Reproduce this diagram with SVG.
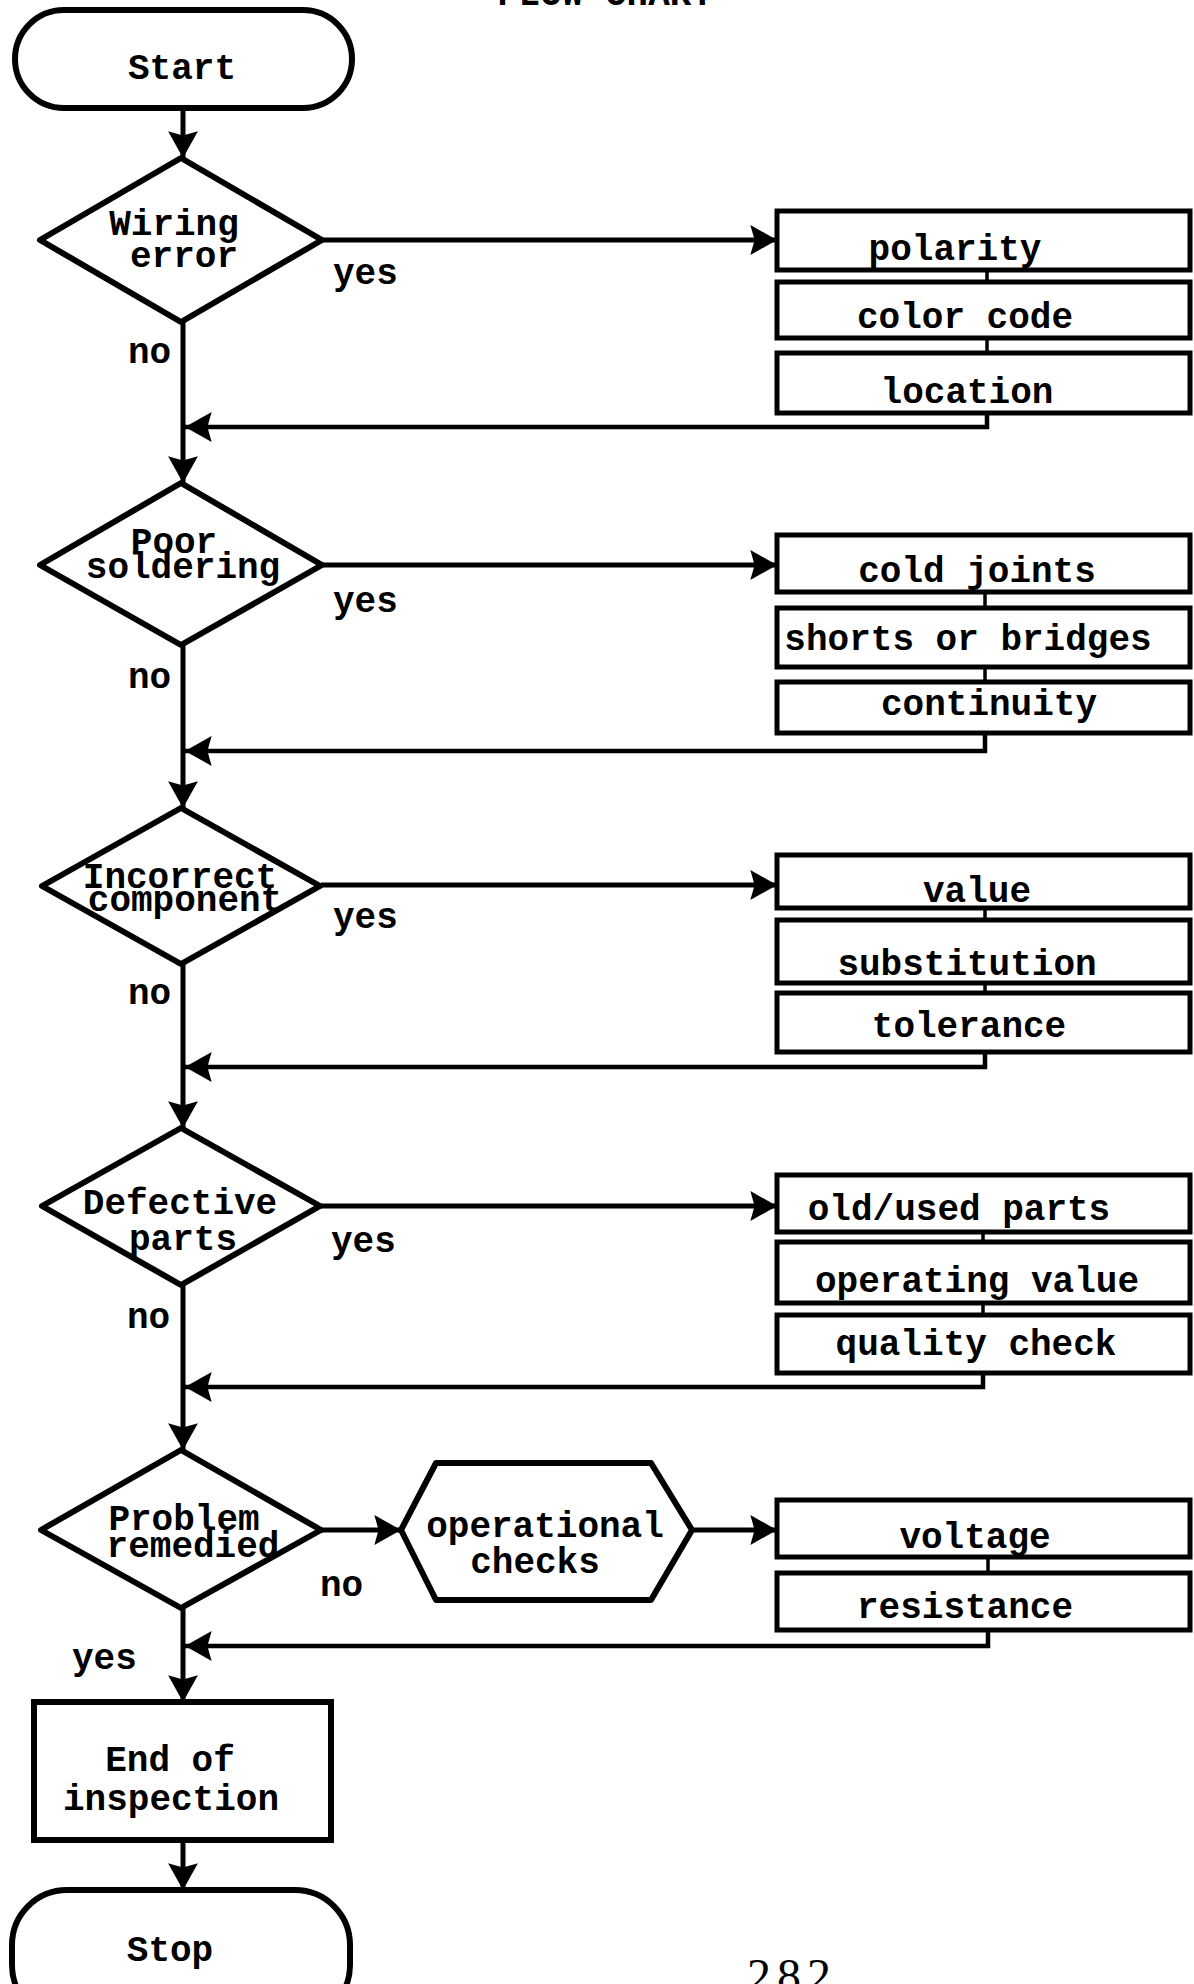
<svg xmlns="http://www.w3.org/2000/svg" width="1194" height="1984" viewBox="0 0 1194 1984">
<style>
.t{font-family:"Liberation Mono","Courier New",monospace;font-weight:bold;font-size:36px;fill:#000;text-anchor:middle}
.l{font-family:"Liberation Mono","Courier New",monospace;font-weight:bold;font-size:36px;fill:#000}
.shape{fill:#fff;stroke:#000;stroke-width:6;stroke-linejoin:round}
.box{fill:#fff;stroke:#000;stroke-width:5}
.flow{fill:none;stroke:#000;stroke-width:5}
.ret{fill:none;stroke:#000;stroke-width:4.5}
.tick{fill:none;stroke:#000;stroke-width:3.5}
</style>
<defs>
<marker id="ah" markerUnits="userSpaceOnUse" markerWidth="30" markerHeight="32" viewBox="0 0 26 30" refX="25" refY="15" orient="auto">
<path d="M0,1 L25,15 L0,29 L4,15 Z" fill="#000"/>
</marker>
</defs>
<rect width="1194" height="1984" fill="#fff"/>
<text class="t" x="605" y="5">FLOW CHART</text>

<g id="connectors">
<path class="flow" d="M183,108 V158" marker-end="url(#ah)"/>
<path class="flow" d="M322,240 H777" marker-end="url(#ah)"/>
<path class="flow" d="M183,322 V483" marker-end="url(#ah)"/>
<path class="tick" d="M987,270 V282 M987,338 V353"/>
<path class="ret" d="M987,413 V427 H185" marker-end="url(#ah)"/>
<path class="flow" d="M322,565 H777" marker-end="url(#ah)"/>
<path class="flow" d="M183,645 V808" marker-end="url(#ah)"/>
<path class="tick" d="M985,592 V608 M985,667 V682"/>
<path class="ret" d="M985,733 V751 H185" marker-end="url(#ah)"/>
<path class="flow" d="M321,885 H777" marker-end="url(#ah)"/>
<path class="flow" d="M183,964 V1128" marker-end="url(#ah)"/>
<path class="tick" d="M985,908 V920 M985,983 V993"/>
<path class="ret" d="M985,1052 V1067 H185" marker-end="url(#ah)"/>
<path class="flow" d="M321,1206 H777" marker-end="url(#ah)"/>
<path class="flow" d="M183,1285 V1450" marker-end="url(#ah)"/>
<path class="tick" d="M983,1232 V1242 M983,1303 V1315"/>
<path class="ret" d="M983,1373 V1387 H185" marker-end="url(#ah)"/>
<path class="flow" d="M321,1530 H401" marker-end="url(#ah)"/>
<path class="flow" d="M692,1530 H777" marker-end="url(#ah)"/>
<path class="tick" d="M988,1557 V1573"/>
<path class="ret" d="M988,1630 V1646 H185" marker-end="url(#ah)"/>
<path class="flow" d="M183,1608 V1702" marker-end="url(#ah)"/>
<path class="flow" d="M183,1840 V1890" marker-end="url(#ah)"/>
<text class="l" x="333" y="284">yes</text>
<text class="l" x="128" y="363">no</text>
<text class="l" x="333" y="612">yes</text>
<text class="l" x="128" y="688">no</text>
<text class="l" x="333" y="928">yes</text>
<text class="l" x="128" y="1004">no</text>
<text class="l" x="331" y="1252">yes</text>
<text class="l" x="127" y="1328">no</text>
<text class="l" x="320" y="1596">no</text>
<text class="l" x="72" y="1669">yes</text>
</g>

<g id="start">
<rect class="shape" x="15" y="10" width="337" height="98" rx="49"/>
<text class="t" x="182" y="79">Start</text>
</g>

<g id="wiring-error">
<path class="shape" d="M181,158 L322,240 L181,322 L40,240 Z"/>
<text class="t" x="174" y="235">Wiring</text>
<text class="t" x="184" y="267">error</text>
</g>
<g id="polarity"><rect class="box" x="777" y="211" width="413" height="59"/><text class="t" x="955" y="260">polarity</text></g>
<g id="color-code"><rect class="box" x="777" y="282" width="413" height="56"/><text class="t" x="965" y="328">color code</text></g>
<g id="location"><rect class="box" x="777" y="353" width="413" height="60"/><text class="t" x="967" y="403">location</text></g>

<g id="poor-soldering">
<path class="shape" d="M181,483 L322,565 L181,645 L40,565 Z"/>
<text class="t" x="174" y="553">Poor</text>
<text class="t" x="183" y="578">soldering</text>
</g>
<g id="cold-joints"><rect class="box" x="777" y="535" width="413" height="57"/><text class="t" x="977" y="582">cold joints</text></g>
<g id="shorts-or-bridges"><rect class="box" x="777" y="608" width="413" height="59"/><text class="t" x="968" y="650">shorts or bridges</text></g>
<g id="continuity"><rect class="box" x="777" y="682" width="413" height="51"/><text class="t" x="989" y="715">continuity</text></g>

<g id="incorrect-component">
<path class="shape" d="M181,808 L320,886 L181,964 L42,886 Z"/>
<text class="t" x="180" y="888">Incorrect</text>
<text class="t" x="185" y="911">component</text>
</g>
<g id="value"><rect class="box" x="777" y="855" width="413" height="53"/><text class="t" x="977" y="902">value</text></g>
<g id="substitution"><rect class="box" x="777" y="920" width="413" height="63"/><text class="t" x="967" y="975">substitution</text></g>
<g id="tolerance"><rect class="box" x="777" y="993" width="413" height="59"/><text class="t" x="969" y="1037">tolerance</text></g>

<g id="defective-parts">
<path class="shape" d="M181,1128 L320,1206 L181,1285 L42,1206 Z"/>
<text class="t" x="180" y="1214">Defective</text>
<text class="t" x="183" y="1250">parts</text>
</g>
<g id="old-used-parts"><rect class="box" x="777" y="1175" width="413" height="57"/><text class="t" x="959" y="1220">old/used parts</text></g>
<g id="operating-value"><rect class="box" x="777" y="1242" width="413" height="61"/><text class="t" x="977" y="1292">operating value</text></g>
<g id="quality-check"><rect class="box" x="777" y="1315" width="413" height="58"/><text class="t" x="976" y="1355">quality check</text></g>

<g id="problem-remedied">
<path class="shape" d="M181,1450 L321,1530 L181,1608 L41,1530 Z"/>
<text class="t" x="184" y="1530">Problem</text>
<text class="t" x="193" y="1557">remedied</text>
</g>
<g id="operational-checks">
<path class="shape" d="M401,1530 L436,1463 L651,1463 L692,1530 L651,1600 L436,1600 Z"/>
<text class="t" x="545" y="1537">operational</text>
<text class="t" x="535" y="1573">checks</text>
</g>
<g id="voltage"><rect class="box" x="777" y="1500" width="413" height="57"/><text class="t" x="975" y="1548">voltage</text></g>
<g id="resistance"><rect class="box" x="777" y="1573" width="413" height="57"/><text class="t" x="965" y="1618">resistance</text></g>

<g id="end-of-inspection">
<rect class="box" x="34" y="1702" width="297" height="138" style="stroke-width:6"/>
<text class="t" x="170" y="1771">End of</text>
<text class="t" x="171" y="1810">inspection</text>
</g>
<g id="stop">
<rect class="shape" x="12" y="1890" width="338" height="130" rx="55"/>
<text class="t" x="170" y="1961">Stop</text>
</g>
<text x="747" y="1992" style="font-family:'Liberation Serif',serif;font-size:48px;letter-spacing:6px;fill:#000">282</text>
</svg>
